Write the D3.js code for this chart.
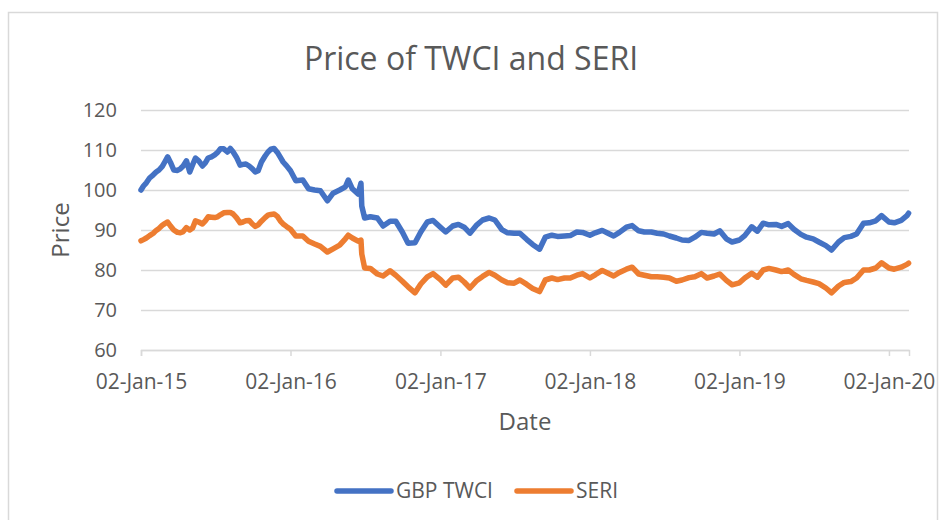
<!DOCTYPE html>
<html>
  <head>
    <meta charset="utf-8">
    <script src="https://cdn.jsdelivr.net/npm/d3@7/dist/d3.min.js"></script>
    <style>
      body { margin: 0; background: #fff; }
      text { font-family: "Open Sans", "Noto Sans", sans-serif; fill: #595959; }
    </style>
  </head>
  <body>
    <svg id="chart" width="939" height="520"></svg>
    <script>
    var dates = [
      "2015-01-02","2015-01-08","2015-01-15","2015-01-23","2015-02-01","2015-02-08","2015-02-15","2015-02-23",
      "2015-03-01","2015-03-08","2015-03-15","2015-03-23","2015-04-01","2015-04-08","2015-04-15","2015-04-23",
      "2015-05-01","2015-05-08","2015-05-15","2015-05-23","2015-06-01","2015-06-08","2015-06-15","2015-06-23",
      "2015-07-01","2015-07-08","2015-07-15","2015-07-23","2015-08-01","2015-08-08","2015-08-15","2015-08-23",
      "2015-09-01","2015-09-08","2015-09-15","2015-09-23","2015-10-01","2015-10-08","2015-10-15","2015-10-23",
      "2015-11-01","2015-11-08","2015-11-15","2015-11-23","2015-12-01","2015-12-08","2015-12-15","2015-12-23",
      "2016-01-02","2016-01-15","2016-02-01","2016-02-15","2016-03-01","2016-03-15","2016-04-01","2016-04-15",
      "2016-05-01","2016-05-15","2016-05-22","2016-06-01","2016-06-15","2016-06-22","2016-06-24","2016-07-01",
      "2016-07-15","2016-08-01","2016-08-15","2016-09-01","2016-09-15","2016-10-01","2016-10-15","2016-11-01",
      "2016-11-15","2016-12-01","2016-12-15",
      "2017-01-02","2017-01-15","2017-02-01","2017-02-15","2017-03-01","2017-03-15","2017-04-01","2017-04-15",
      "2017-05-01","2017-05-15","2017-06-01","2017-06-15","2017-07-01","2017-07-15","2017-08-01","2017-08-15",
      "2017-09-01","2017-09-15","2017-10-01","2017-10-15","2017-11-01","2017-11-15","2017-12-01","2017-12-15",
      "2018-01-02","2018-01-15","2018-02-01","2018-02-15","2018-03-01","2018-03-15","2018-04-01","2018-04-15",
      "2018-05-01","2018-05-15","2018-06-01","2018-06-15","2018-07-01","2018-07-15","2018-08-01","2018-08-15",
      "2018-09-01","2018-09-15","2018-10-01","2018-10-15","2018-11-01","2018-11-15","2018-12-01","2018-12-15",
      "2019-01-02","2019-01-15","2019-02-01","2019-02-15","2019-03-01","2019-03-15","2019-04-01","2019-04-15",
      "2019-05-01","2019-05-15","2019-06-01","2019-06-15","2019-07-01","2019-07-15","2019-08-01","2019-08-15",
      "2019-09-01","2019-09-15","2019-10-01","2019-10-15","2019-11-01","2019-11-15","2019-12-01","2019-12-15",
      "2020-01-02","2020-01-15","2020-02-01","2020-02-15","2020-02-19"
    ];
    var twci = [
      100, 101, 101.8, 103, 103.8, 104.5, 105, 105.9,
      107, 108.3, 106.9, 105, 104.9, 105.3, 106, 107.3,
      104.5, 106.3, 108, 107.3, 106, 106.8, 108, 108.3,
      108.8, 109.4, 110.3, 110.3, 109.5, 110.4, 109.5, 108.2,
      106.2, 106.4, 106.5, 106, 105.3, 104.5, 104.8, 107,
      108.5, 109.5, 110.2, 110.4, 109.4, 108.2, 107, 106.1,
      104.8, 102.3, 102.5, 100.3, 100, 99.8, 97.3, 99.2,
      100, 100.8, 102.5, 100.3, 99, 101.7, 96, 93,
      93.3, 93, 91, 92.2, 92.2, 89.5, 86.7, 86.8,
      89.5, 92, 92.4,
      90.7, 89.5, 91, 91.4, 90.7, 89.2, 91.3, 92.5,
      93, 92.5, 90.1, 89.3, 89.2, 89.2, 87.6, 86.4,
      85.2, 88.2, 88.7, 88.4, 88.5, 88.6, 89.5, 89.4,
      88.7, 89.3, 89.9, 89.2, 88.5, 89.4, 90.7, 91.1,
      89.8, 89.5, 89.5, 89.2, 89, 88.5, 88, 87.5,
      87.4, 88.2, 89.4, 89.2, 89, 89.8, 87.8, 87,
      87.5, 88.6, 90.8, 89.7, 91.7, 91.3, 91.4, 90.9,
      91.6, 90.2, 88.9, 88.2, 87.8, 87, 86.1, 85,
      87, 88.1, 88.4, 89, 91.7, 91.8, 92.3, 93.6,
      92, 91.8, 92.4, 93.6, 94.2
    ];
    var seri = [
      87.3, 87.6, 88, 88.6, 89.2, 89.9, 90.4, 91.2,
      91.6, 92, 91, 90, 89.4, 89.3, 89.6, 90.6,
      90, 90.5, 92.3, 92, 91.5, 92.3, 93.3, 93.2,
      93.1, 93.3, 93.8, 94.3, 94.4, 94.4, 94, 93.1,
      91.8, 92, 92.3, 92.4, 91.5, 90.9, 91.3, 92.2,
      93.1, 93.7, 93.9, 94, 93.4, 92.3, 91.5, 90.9,
      90.2, 88.5, 88.5, 87.2, 86.5, 85.9, 84.5, 85.3,
      86.2, 87.8, 88.7, 88, 87.2, 87.5, 84, 80.5,
      80.4, 79, 78.5, 79.8, 78.7, 77.2, 75.8, 74.3,
      76.5, 78.3, 79.1,
      77.6, 76.2, 78, 78.2, 77, 75.5, 77.4, 78.4,
      79.4, 78.7, 77.5, 76.8, 76.7, 77.5, 76.4, 75.4,
      74.6, 77.5, 78, 77.6, 78, 78, 78.7, 79.1,
      78, 78.8, 79.9, 79.2, 78.5, 79.4, 80.2, 80.7,
      79, 78.7, 78.3, 78.3, 78.2, 78, 77.2, 77.5,
      78.1, 78.3, 79.1, 78, 78.5, 79, 77.4, 76.3,
      76.8, 78, 79.2, 78.2, 80, 80.4, 80, 79.6,
      80, 78.9, 77.8, 77.4, 77, 76.6, 75.5, 74.3,
      76, 76.9, 77.1, 78, 80, 80, 80.5, 81.8,
      80.5, 80.2, 80.7, 81.4, 81.7
    ];
    var yTicks = [60, 70, 80, 90, 100, 110, 120];
    var xTicks = ["2015-01-02","2016-01-02","2017-01-02","2018-01-02","2019-01-02","2020-01-02"];
    var seriesNames = ["GBP TWCI", "SERI"];
    var seriesColors = ["#4472C4", "#ED7D31"];

    var parse = d3.timeParse("%Y-%m-%d");
    var svg = d3.select("#chart");

    // chart frame (bottom edge runs past the picture)
    svg.append("rect")
      .attr("x", 8.5).attr("y", 12.5)
      .attr("width", 929).attr("height", 530)
      .attr("fill", "none")
      .attr("stroke", "#D9D9D9")
      .attr("stroke-width", 1.5);

    var margin = {left: 141, right: 30, top: 110, bottom: 170};
    var width = 939 - margin.left - margin.right;
    var height = 520 - margin.top - margin.bottom;

    var x = d3.scaleTime()
      .domain([parse("2015-01-02"), parse("2020-02-20")])
      .range([0, width]);
    var y = d3.scaleLinear()
      .domain([60, 120])
      .range([height, 0]);

    var g = svg.append("g")
      .attr("transform", "translate(" + margin.left + "," + margin.top + ")");

    // gridlines
    var yAxis = d3.axisLeft(y).tickValues(yTicks).tickSize(-width).tickPadding(24);
    g.append("g").attr("class", "yaxis").call(yAxis)
      .call(function(a) {
        a.select(".domain").remove();
        a.selectAll("line").attr("stroke", "#D9D9D9").attr("stroke-width", 1.5);
        a.selectAll("text").style("font-size", "20px").attr("fill", "#595959");
      });

    var xAxis = d3.axisBottom(x)
      .tickValues(xTicks.map(parse))
      .tickFormat(d3.timeFormat("%d-%b-%y"))
      .tickSize(6).tickPadding(18);
    g.append("g").attr("class", "xaxis")
      .attr("transform", "translate(0," + height + ")")
      .call(xAxis)
      .call(function(a) {
        a.select(".domain").attr("stroke", "#D9D9D9").attr("stroke-width", 1.5);
        a.selectAll("line").attr("stroke", "#D9D9D9").attr("stroke-width", 1.5);
        a.selectAll("text").style("font-size", "21px").attr("fill", "#595959");
      });

    var line = d3.line()
      .x(function(d, i) { return x(parse(dates[i])); })
      .y(function(d) { return y(d); });

    [twci, seri].forEach(function(vals, k) {
      g.append("path")
        .datum(vals)
        .attr("fill", "none")
        .attr("stroke", seriesColors[k])
        .attr("stroke-width", 5.5)
        .attr("stroke-linejoin", "round")
        .attr("stroke-linecap", "round")
        .attr("d", line);
    });

    svg.append("text")
      .attr("x", 471).attr("y", 70)
      .attr("text-anchor", "middle")
      .style("font-size", "32px")
      .text("Price of TWCI and SERI");

    svg.append("text")
      .attr("x", 525).attr("y", 430)
      .attr("text-anchor", "middle")
      .style("font-size", "24px")
      .text("Date");

    svg.append("text")
      .attr("transform", "translate(69,230) rotate(-90)")
      .attr("text-anchor", "middle")
      .style("font-size", "24px")
      .text("Price");

    // legend
    var lx = [337, 517];
    seriesNames.forEach(function(name, k) {
      svg.append("line")
        .attr("x1", lx[k]).attr("x2", lx[k] + 54)
        .attr("y1", 491).attr("y2", 491)
        .attr("stroke", seriesColors[k])
        .attr("stroke-width", 5.5)
        .attr("stroke-linecap", "round");
      svg.append("text")
        .attr("x", lx[k] + 59).attr("y", 498)
        .style("font-size", "21px")
        .text(name);
    });
    </script>
  </body>
</html>
